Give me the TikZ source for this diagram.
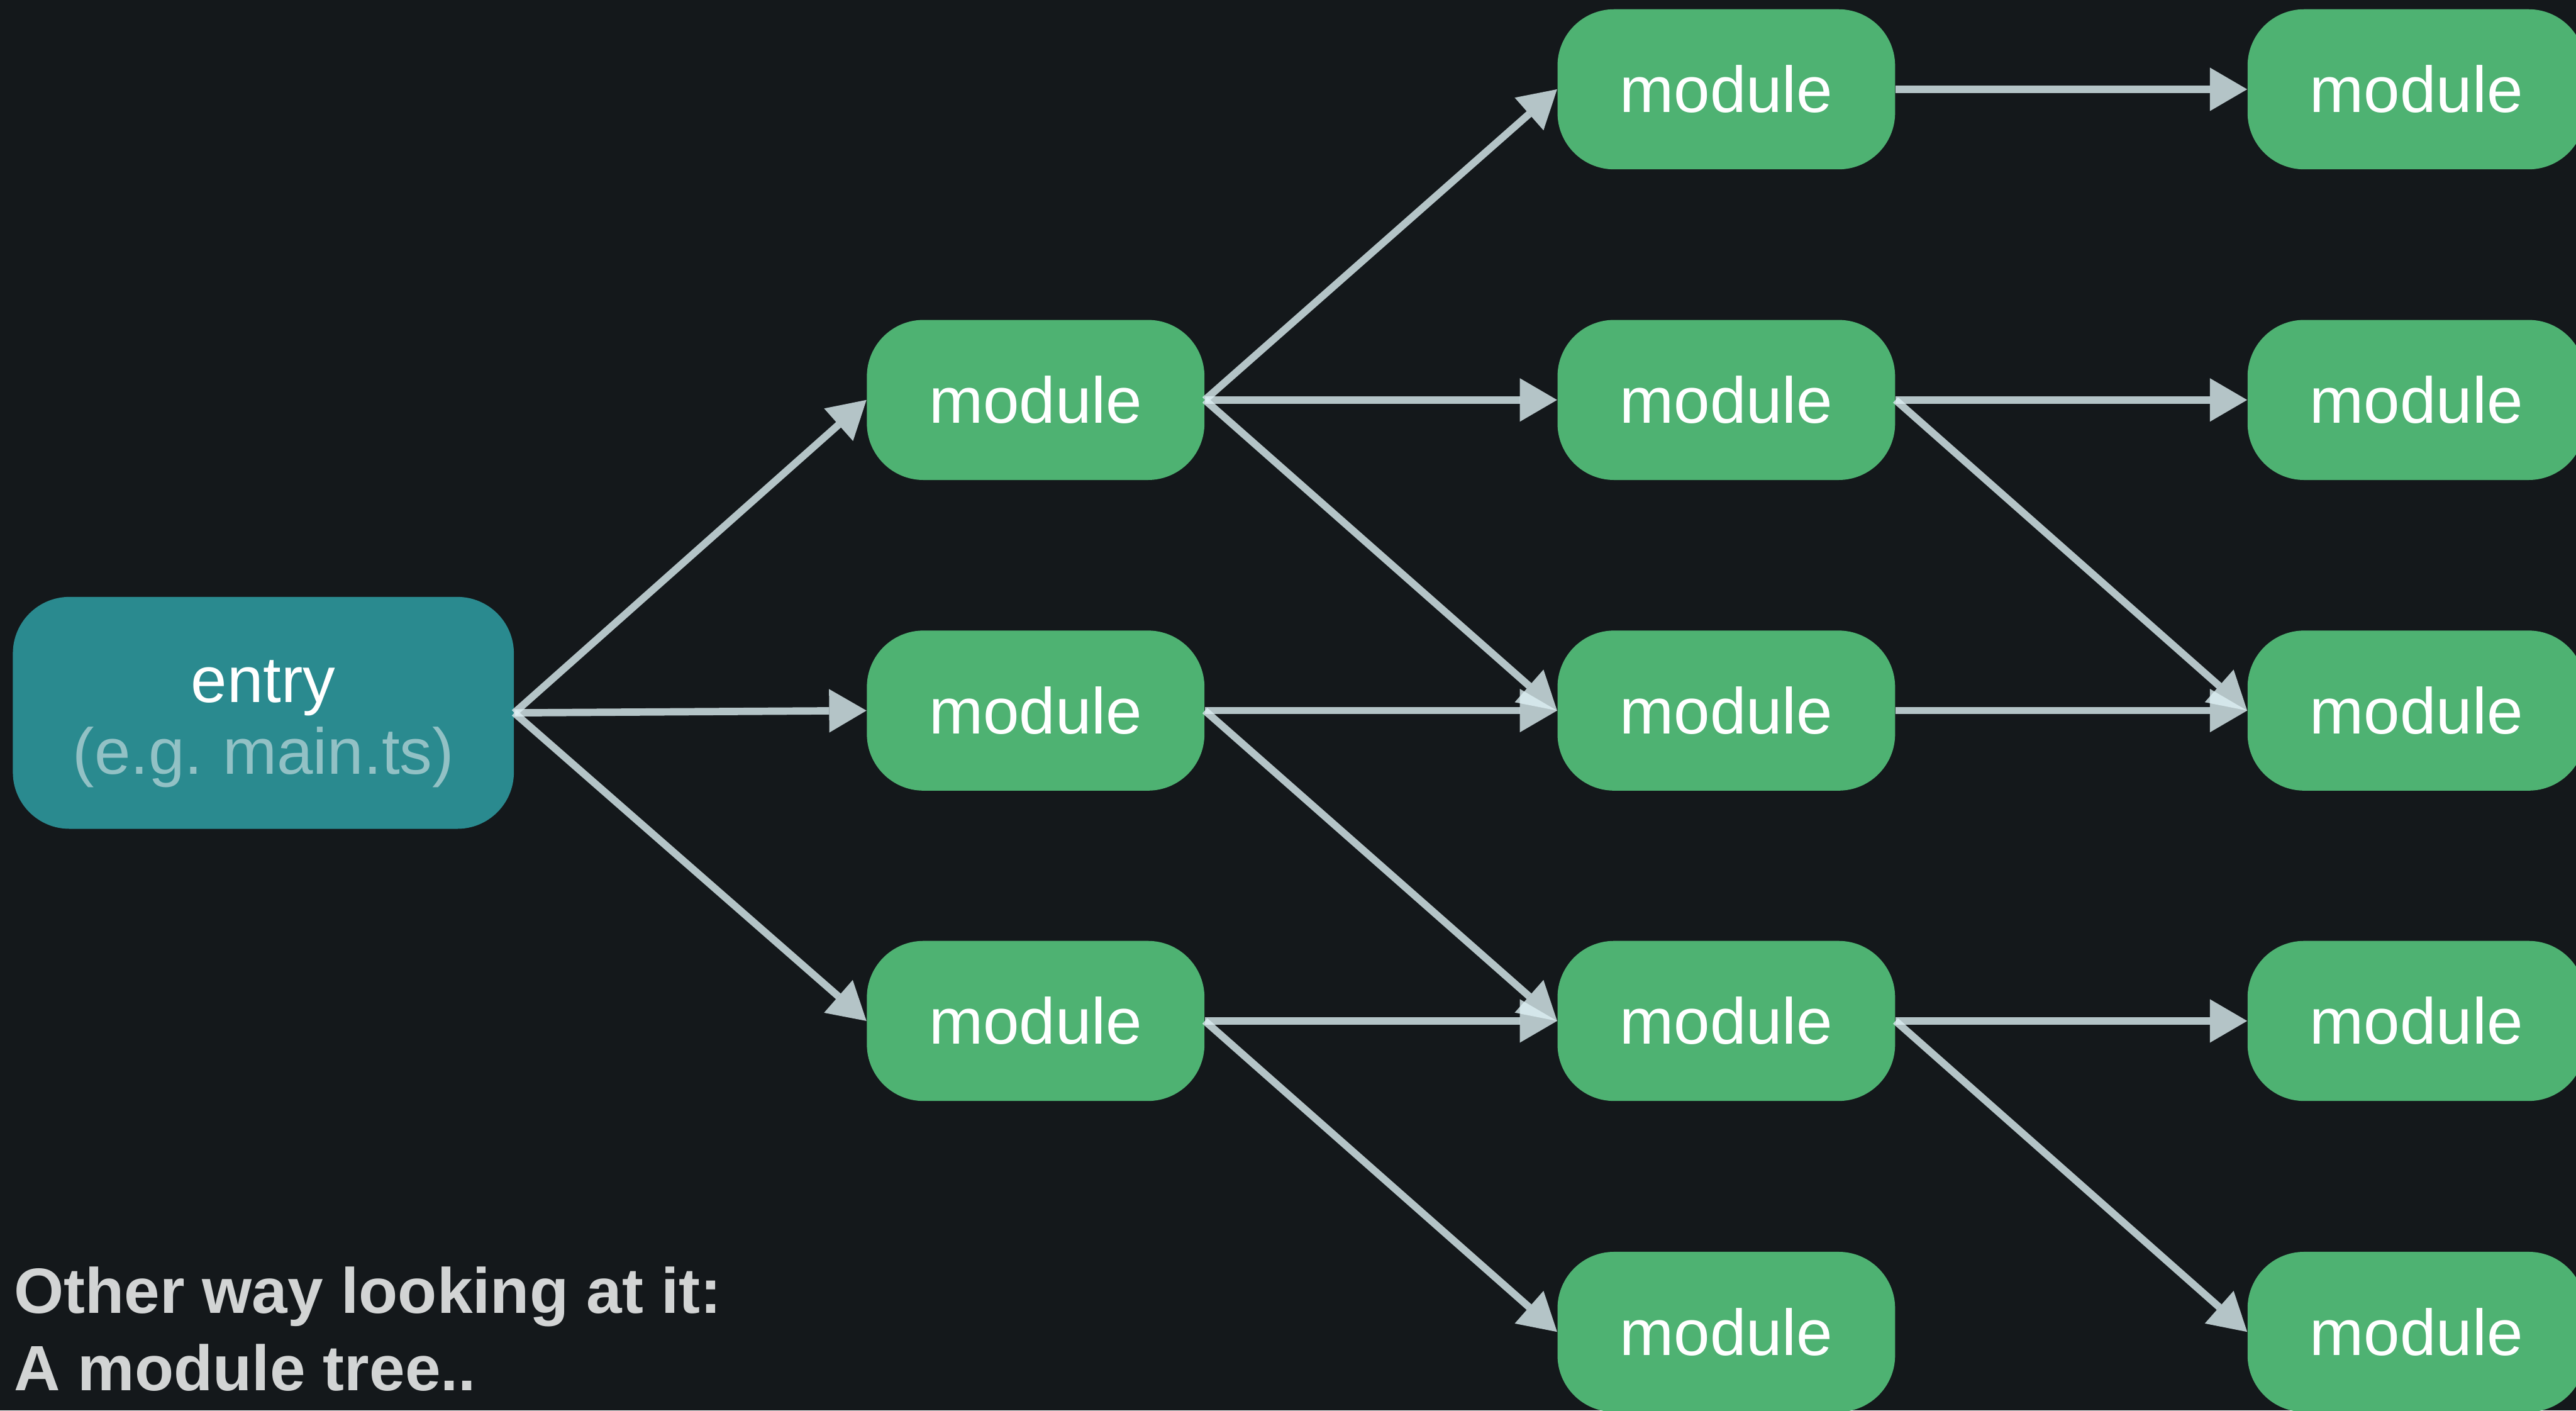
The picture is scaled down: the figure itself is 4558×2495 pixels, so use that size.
\documentclass[tikz,border=0pt]{standalone}
\usepackage{fontspec}
\setmainfont{Liberation Sans}
\usetikzlibrary{arrows.meta}
\definecolor{canvas}{RGB}{20,24,27}
\definecolor{modgreen}{RGB}{78,178,114}
\definecolor{entryteal}{RGB}{42,138,143}
\definecolor{entrysub}{RGB}{146,193,197}
\definecolor{edgegrey}{RGB}{221,239,243}
\definecolor{notegrey}{RGB}{210,212,212}

\begin{document}
\begin{tikzpicture}[x=0.01cm, y=-0.01cm,
  module/.style={fill=modgreen, rounded corners=1cm, minimum width=5.97cm,
    minimum height=2.83cm, inner sep=0pt, text=white,
    font=\fontsize{32.7}{39}\selectfont},
  entrybox/.style={fill=entryteal, rounded corners=1cm, minimum width=8.86cm,
    minimum height=4.1cm, inner sep=0pt},
  entrytext/.style={inner sep=0pt, anchor=base, font=\fontsize{32.7}{39}\selectfont},
  note/.style={inner sep=0pt, anchor=base west, text=notegrey,
    font=\bfseries\fontsize{32.2}{39}\selectfont},
  link/.style={draw=edgegrey, opacity=0.8, line width=0.13cm,
    -{Triangle[length=0.66cm, width=0.77cm, line width=0pt]}}]

% canvas
\fill[canvas] (0,0) rectangle (4558,2495);
\useasboundingbox (0,0) rectangle (4558,2495);

% entry point
\node[entrybox] (entry) at (466,1261) {};
\node[entrytext, text=white] (entryname) at (466,1242) {entry};
\node[entrytext, text=entrysub] (entryhint) at (466,1369) {(e.g.\kern-0.06em{} main.ts)};

% modules: m<column><row>
\node[module] (m22) at (1832.5, 707.5) {module};
\node[module] (m23) at (1832.5,1257)   {module};
\node[module] (m24) at (1832.5,1806)   {module};

\node[module] (m31) at (3054.5, 158)   {module};
\node[module] (m32) at (3054.5, 707.5) {module};
\node[module] (m33) at (3054.5,1257)   {module};
\node[module] (m34) at (3054.5,1806)   {module};
\node[module] (m35) at (3054.5,2356)   {module};

\node[module] (m41) at (4275.5, 158)   {module};
\node[module] (m42) at (4275.5, 707.5) {module};
\node[module] (m43) at (4275.5,1257)   {module};
\node[module] (m44) at (4275.5,1806)   {module};
\node[module] (m45) at (4275.5,2356)   {module};

% imports
\foreach \a/\b in {entry/m22, entry/m23, entry/m24,
                   m22/m31, m22/m32, m22/m33,
                   m23/m33, m23/m34,
                   m24/m34, m24/m35,
                   m31/m41,
                   m32/m42, m32/m43,
                   m33/m43,
                   m34/m44, m34/m45}
  \draw[link] (\a.east) -- (\b.west);

% caption
\node[note] (note1) at (24,2323) {Other way looking at it:};
\node[note] (note2) at (24,2460) {A module tree..};
\end{tikzpicture}
\end{document}
